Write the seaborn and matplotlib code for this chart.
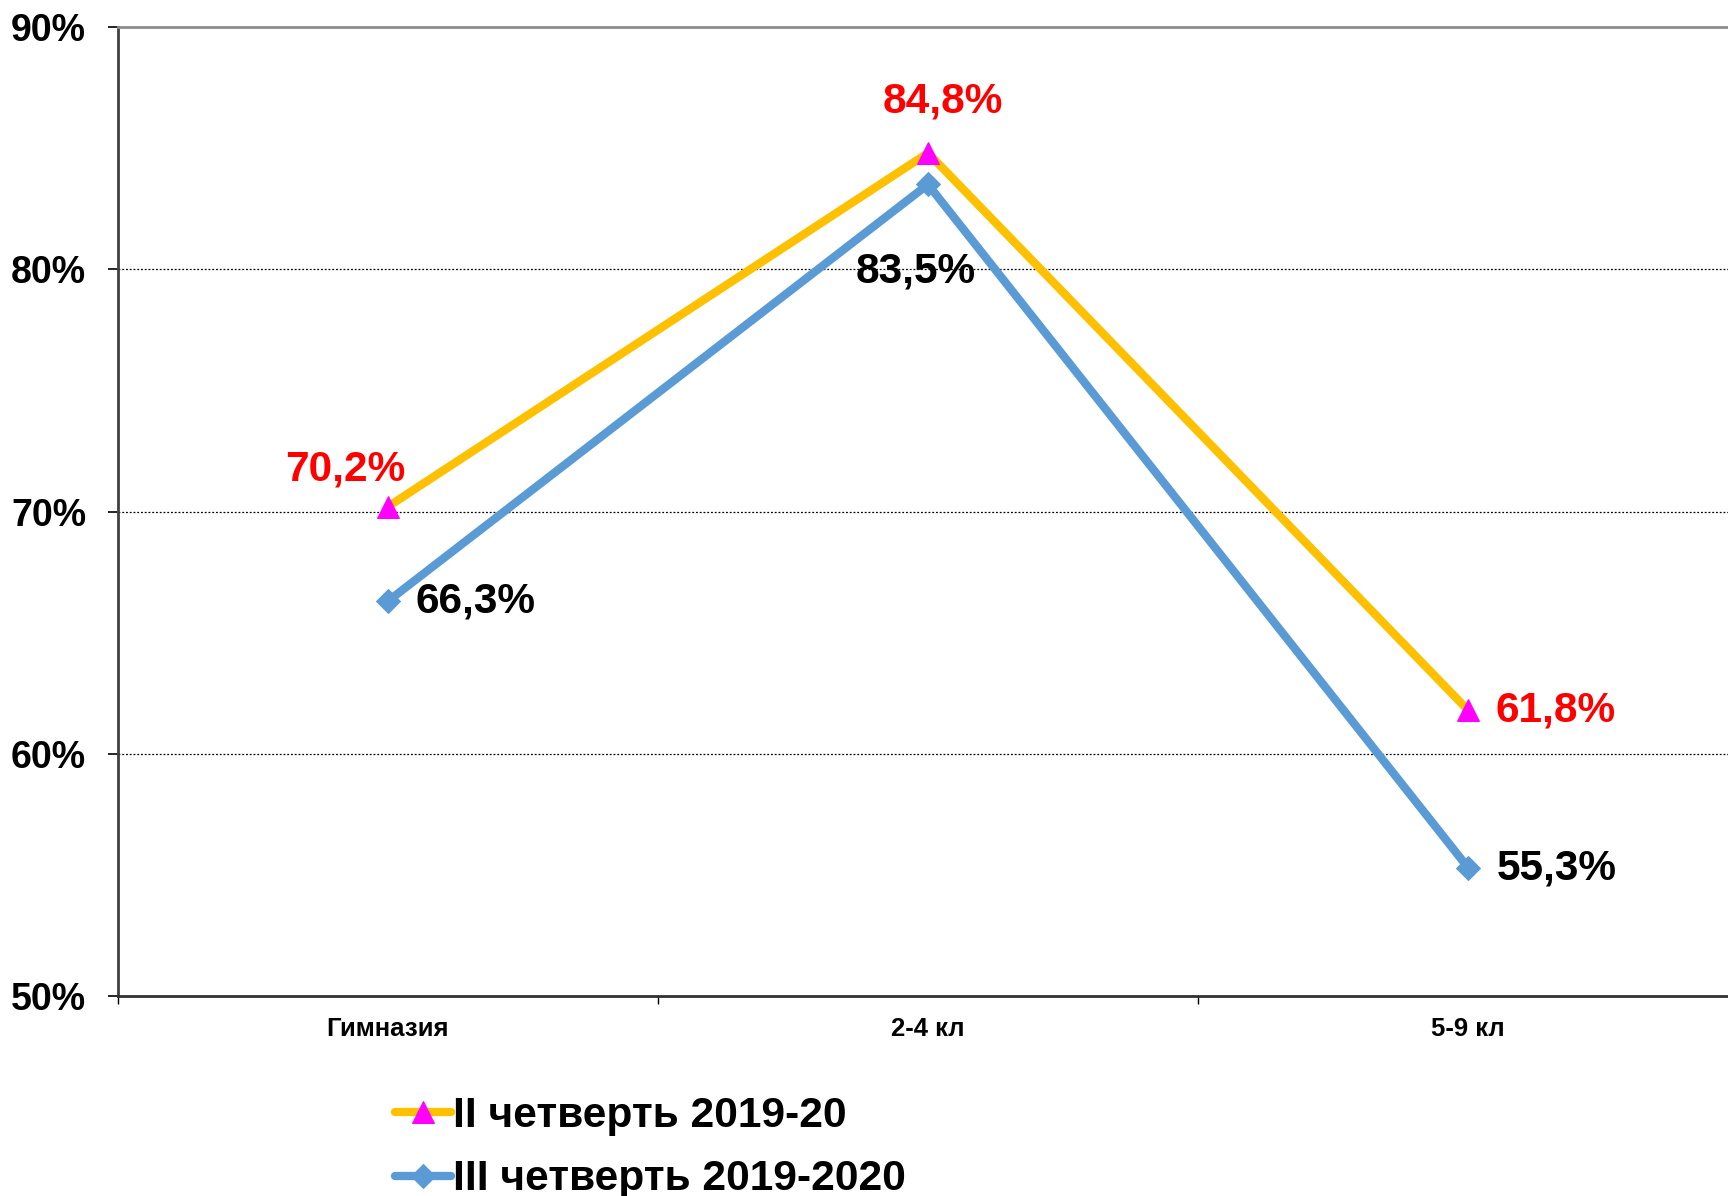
import matplotlib
matplotlib.use("Agg")
import matplotlib.pyplot as plt
import seaborn as sns
import pandas as pd
from matplotlib.ticker import FixedLocator, PercentFormatter

categories = ["Гимназия", "2-4 кл", "5-9 кл"]
series_q2_name = "II четверть 2019-20"
series_q3_name = "III четверть 2019-2020"
q2_values = [70.2, 84.8, 61.8]
q3_values = [66.3, 83.5, 55.3]
y_ticks = [50, 60, 70, 80, 90]

sns.set_theme(style="white")
plt.rcParams["font.family"] = ["Liberation Sans", "DejaVu Sans"]
plt.rcParams["font.weight"] = "bold"
plt.rcParams["text.color"] = "black"
plt.rcParams["xtick.color"] = "black"
plt.rcParams["ytick.color"] = "black"
plt.rcParams["xtick.labelcolor"] = "black"
plt.rcParams["ytick.labelcolor"] = "black"

fig = plt.figure(figsize=(17.28, 11.96), dpi=100)
ax = fig.add_axes([118 / 1728, 1 - 996 / 1196, 1620 / 1728, 969 / 1196])

df2 = pd.DataFrame({"cat": categories, "val": q2_values})
df3 = pd.DataFrame({"cat": categories, "val": q3_values})

sns.lineplot(data=df2, x="cat", y="val", ax=ax, color="#FFC000", linewidth=6,
             marker="^", markersize=16, markerfacecolor="#FF00FF",
             markeredgecolor="#FF00FF", label=series_q2_name, sort=False,
             solid_capstyle="round", zorder=3)
sns.lineplot(data=df3, x="cat", y="val", ax=ax, color="#5B9BD5", linewidth=6,
             marker="D", markersize=12, markerfacecolor="#5B9BD5",
             markeredgecolor="#5B9BD5", label=series_q3_name, sort=False,
             solid_capstyle="round", zorder=4)

ax.set_xlim(-0.5, 2.5)
ax.set_ylim(50, 90)
ax.set_xlabel("")
ax.set_ylabel("")

ax.yaxis.set_major_locator(FixedLocator(y_ticks))
ax.yaxis.set_major_formatter(PercentFormatter(decimals=0))
ax.tick_params(axis="y", which="major", length=7, width=1.2, color="black",
               labelcolor="black", pad=16, labelsize=27, left=True)
for lbl in ax.get_yticklabels():
    lbl.set_fontweight("bold")

ax.set_xticks(range(len(categories)))
ax.set_xticklabels(categories, fontsize=18.5, fontweight="bold", color="black")
ax.tick_params(axis="x", which="major", length=0, pad=15)
ax.set_xticks([-0.5, 0.5, 1.5, 2.5], minor=True)
ax.tick_params(axis="x", which="minor", length=6, width=1.0, color="black",
               bottom=True)

for y in [60, 70, 80]:
    ax.axhline(y, color="black", linewidth=0.9, linestyle=(0, (1.5, 1.5)), zorder=1)

ax.spines["left"].set_color("#404040")
ax.spines["left"].set_linewidth(2)
ax.spines["bottom"].set_color("#303030")
ax.spines["bottom"].set_linewidth(2)
ax.spines["top"].set_color("#8C8C8C")
ax.spines["top"].set_linewidth(2)
ax.spines["right"].set_visible(False)

# data labels (offsets in points)
q2_offsets = [(-31, 27), (11, 37), (20, 0)]
q2_ha = ["center", "center", "left"]
q3_offsets = [(20, 0), (-9, -63), (21, -1)]
q3_ha = ["left", "center", "left"]
for i, v in enumerate(q2_values):
    ax.annotate(f"{v:.1f}%".replace(".", ","), (i, v), xytext=q2_offsets[i],
                textcoords="offset points", ha=q2_ha[i], va="center",
                fontsize=30.5, fontweight="bold", color="#FF0000", zorder=5)
for i, v in enumerate(q3_values):
    ax.annotate(f"{v:.1f}%".replace(".", ","), (i, v), xytext=q3_offsets[i],
                textcoords="offset points", ha=q3_ha[i], va="center",
                fontsize=30.5, fontweight="bold", color="black", zorder=5)

handles, labels = ax.get_legend_handles_labels()
ax.get_legend().remove()
leg = fig.legend(handles, labels, loc="upper left",
                 bbox_to_anchor=(395 / 1728, 1 - 1096 / 1196),
                 frameon=False, prop={"weight": "bold", "size": 30.6},
                 handlelength=1.32, handletextpad=0.05, labelspacing=0.55,
                 borderpad=0, borderaxespad=0)
for t in leg.get_texts():
    t.set_color("black")

fig.savefig("out.png", dpi=100)
